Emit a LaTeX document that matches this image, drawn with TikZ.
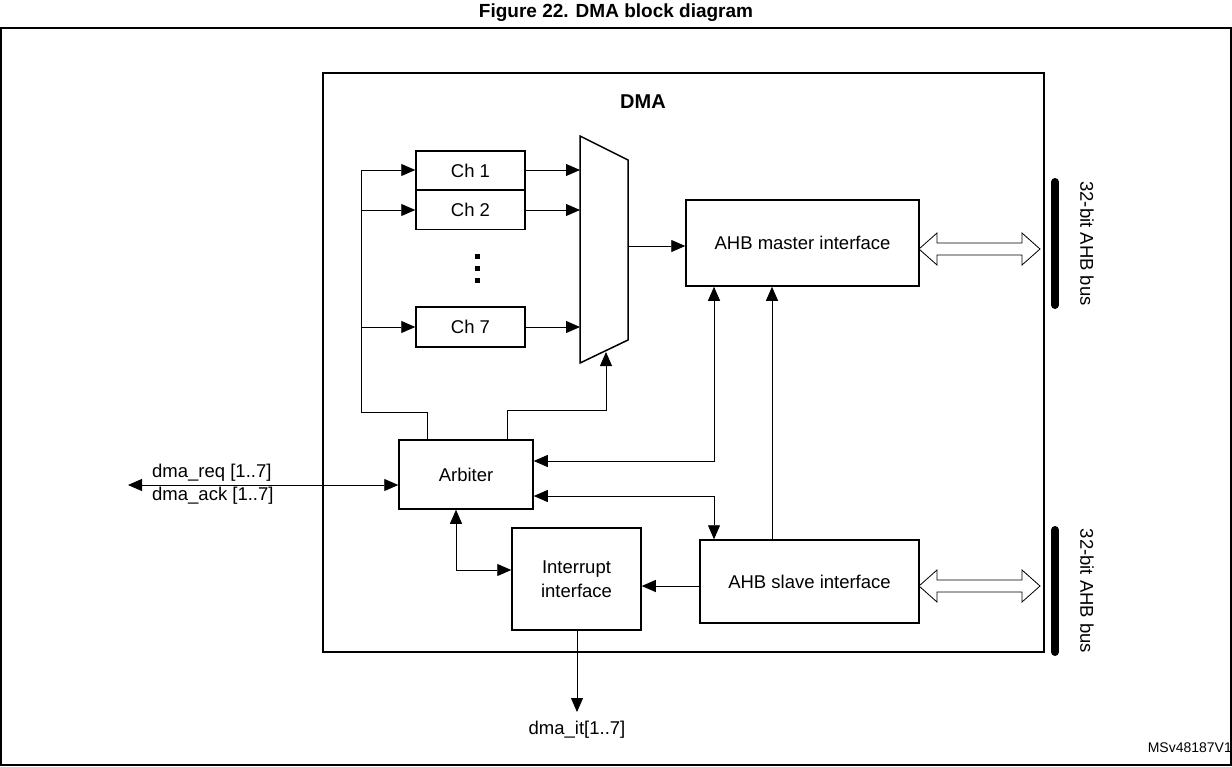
\documentclass[tikz,border=0pt]{standalone}
\usepackage{fontspec}
\setmainfont{Liberation Sans}
\usetikzlibrary{arrows.meta}
\begin{document}
\begin{tikzpicture}[x=1pt,y=-1pt,
  box/.style={draw,line width=1.5pt,inner sep=0pt,font=\fontsize{18.5}{21}\selectfont},
  ar/.style={line width=0.9pt,-{Triangle[length=14pt,width=12pt]}},
  dar/.style={line width=0.9pt,{Triangle[length=14pt,width=12pt]}-{Triangle[length=14pt,width=12pt]}},
  txt/.style={font=\fontsize{18.5}{21}\selectfont,inner sep=0pt}]
\useasboundingbox (0,0) rectangle (1232,766);
\node[font=\fontsize{19}{21}\selectfont\bfseries] (title) at (616,13) {Figure 22. DMA block diagram};
\draw[line width=1.5pt] (1,28) rectangle (1231,765);
\draw[line width=2pt] (323,73) rectangle (1044,652);
\node[font=\fontsize{20}{22}\selectfont\bfseries] (dma) at (643,102) {DMA};
% channels
\node[box,minimum width=109pt,minimum height=39pt] (c1) at (470.5,170.5) {Ch 1};
\node[box,minimum width=109pt,minimum height=39pt] (c2) at (470.5,210) {Ch 2};
\node[box,minimum width=109pt,minimum height=40pt] (c7) at (470.5,327) {Ch 7};
\foreach \yy in {256,268,280}{\fill (475,\yy-2.5) rectangle (480,\yy+2.5);}
% mux
\draw[line width=1.5pt] (580,136) -- (628,160) -- (628,340) -- (580,363) -- cycle;
\coordinate (m1) at (580,170); \coordinate (m2) at (580,210); \coordinate (m7) at (580,327);
\coordinate (mb) at (606,352); \coordinate (mo) at (628,246);
\draw[ar] (c1.east|-m1) -- (m1);
\draw[ar] (c2.east|-m2) -- (m2);
\draw[ar] (c7.east|-m7) -- (m7);
% blocks
\node[box,minimum width=233pt,minimum height=86pt] (mst) at (802.5,243) {AHB master interface};
\node[box,minimum width=219pt,minimum height=83pt] (slv) at (809.5,581.5) {AHB slave interface};
\node[box,minimum width=134pt,minimum height=69pt] (arb) at (466,474.5) {Arbiter};
\node[box,minimum width=129pt,minimum height=102pt,align=center] (irq) at (576.5,579) {Interrupt\\[3pt]interface};
\draw[ar] (mo) -- (mst.west|-mo);
% arbiter to channels
\coordinate (bl) at (361,412);
\draw[line width=0.9pt] (arb.north-|427,0) -- (427,412) -- (bl) -- (361,170);
\draw[ar] (361,170) -- (c1.west|-m1);
\draw[ar] (361,210) -- (c2.west|-m2);
\draw[ar] (361,327) -- (c7.west|-m7);
\draw[ar] (arb.north-|507,0) -- (507,410) -- (606,410) -- (mb);
% arbiter links
\draw[dar] (arb.east|-0,461) -- (714,461) -- (mst.south-|714,0);
\draw[dar] (arb.east|-0,496) -- (714,496) -- (slv.north-|714,0);
\draw[ar] (slv.north-|772,0) -- (mst.south-|772,0);
\draw[dar] (arb.south-|456,0) -- (456,570) -- (irq.west|-0,570);
\draw[ar] (slv.west|-0,586) -- (irq.east|-0,586);
\coordinate (it) at (577,712);
\draw[ar] (irq.south-|577,0) -- (it);
\node[txt,anchor=north] (itl) at (577,721) {dma\_it[1..7]};
% dma req/ack
\coordinate (rq) at (128,485);
\draw[dar] (rq) -- (arb.west|-rq);
\node[txt,anchor=south west] (req) at (152,482) {dma\_req [1..7]};
\node[txt,anchor=north west] (ack) at (152,487) {dma\_ack [1..7]};
% buses
\foreach \y/\a/\b in {249/182/305,586/530/652}{
  \draw[line width=0.8pt,fill=white] (919,\y) -- (937,\y-16) -- (937,\y-6) -- (1022,\y-6) -- (1022,\y-16) -- (1040,\y) -- (1022,\y+16) -- (1022,\y+6) -- (937,\y+6) -- (937,\y+16) -- cycle;
  \draw[line width=8pt,line cap=round] (1055,\a) -- (1055,\b);
  \node[txt,rotate=-90] at (1087,{(\a+\b)/2}) {32-bit AHB bus};
}
\node[font=\fontsize{14}{16}\selectfont,anchor=east,inner sep=0pt] (ms) at (1232,748) {MSv48187V1};
\end{tikzpicture}
\end{document}
